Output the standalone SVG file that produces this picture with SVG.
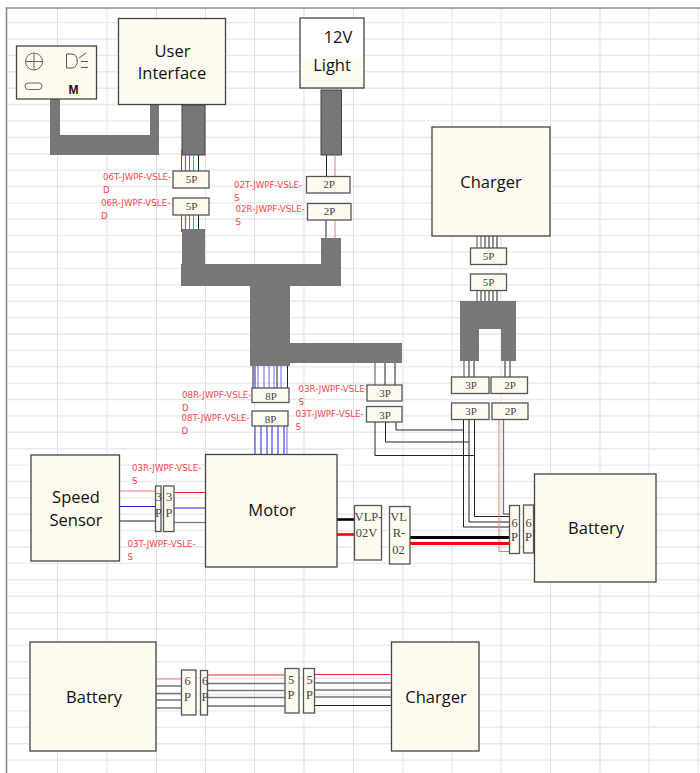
<svg xmlns="http://www.w3.org/2000/svg" width="700" height="773" viewBox="0 0 700 773">
<defs>
<style>
.box{fill:#fffaf0;stroke:#444;stroke-width:1.3}
.con{fill:#fffaf0;stroke:#555;stroke-width:1.3}
.title{font-family:"Open Sans","Noto Sans",sans-serif;font-size:16.500px;fill:#111;text-anchor:middle}
.pin{font-family:"Liberation Serif",serif;font-size:11px;fill:#444;text-anchor:middle}
.pinb{font-family:"Liberation Serif",serif;font-size:12.500px;fill:#444;text-anchor:middle}
.lab{font-family:"DejaVu Sans",sans-serif;font-size:8.700px;fill:#f44}
.bar{fill:#777}
.k{stroke:#222;fill:none;stroke-width:1}
.g{stroke:#777;fill:none;stroke-width:1.3}
.r{stroke:#f22;fill:none;stroke-width:1}
.lr{stroke:#f77;fill:none;stroke-width:1}
.b{stroke:#22d;fill:none;stroke-width:1}
.lb{stroke:#66f;fill:none;stroke-width:1}
.v{stroke:#85c;fill:none;stroke-width:1}
.c{stroke:#3ad;fill:none;stroke-width:1}
</style>
</defs>
<rect width="700" height="773" fill="#fff"/>
<g id="grid" fill="none">
<path stroke="#e6e9f2" stroke-width="1.400" d="M7 22.600H700M7 39H700M7 55.400H700M7 71.800H700M7 88.200H700M7 104.500H700M7 120.900H700M7 137.300H700M7 153.700H700M7 170.100H700M7 186.500H700M7 202.900H700M7 219.200H700M7 235.600H700M7 252H700M7 268.400H700M7 284.800H700M7 301.200H700M7 317.600H700M7 334H700M7 350.400H700M7 366.800H700M7 383.200H700M7 399.500H700M7 415.900H700M7 432.300H700M7 448.700H700M7 465.100H700M7 481.500H700M7 497.900H700M7 514.300H700M7 530.600H700M7 547H700M7 563.400H700M7 579.800H700M7 596.200H700M7 612.600H700M7 629H700M7 645.400H700M7 661.800H700M7 678.200H700M7 694.500H700M7 710.900H700M7 727.300H700M7 743.700H700M7 760.100H700"/>
<path stroke="#dde1ee" stroke-width="1" d="M57.500 8V773M107 8V773M156.500 8V773M205.500 8V773M254.500 8V773M304 8V773M353.500 8V773M403 8V773M452 8V773M501 8V773M550.500 8V773M600 8V773M649 8V773M698 8V773"/>
<path stroke="#8b8b8b" stroke-width="1.600" d="M6.500 773V8H700"/>
</g>
<g id="connectors">
<path class="bar" d="M50 99H60V135H150V104H159V155H50Z"/>
<rect class="bar" x="182" y="105" width="23" height="50" stroke="#444"/>
<rect class="bar" x="321" y="90" width="20.500" height="65" stroke="#444"/>
<path class="bar" d="M182 229H205V264H321V238H341V286H290V343H402V363H290V366H250V286H181V264H182Z"/>
<path class="bar" d="M460 301H516V361H501V329H479V361H460Z"/>
<path class="r" d="M181.500 150V171M181.500 215V232"/>
<path class="g" d="M185.500 155V171M185.500 215V229"/>
<path class="v" d="M189.500 155V171M189.500 215V229"/>
<path class="c" d="M193.500 155V171M193.500 215V229"/>
<path class="k" d="M198.500 155V171M198.500 215V229"/>
<path class="k" d="M326.500 155V176M326 220V238"/>
<path class="lr" d="M335 155V176M335 220V238"/>
<path class="k" d="M253 366V388M277 366V388M287.500 366V388"/>
<path class="b" d="M255 366V388M255 426V454M261 426V454M267 426V454M272 426V454M278 426V454M284 426V454"/>
<path class="lb" d="M258 366V388M264 366V388M269 366V388M274 366V388M281 366V388M287 426V454"/>
<path class="g" d="M375 363V385"/>
<path class="k" d="M385 363V385M395 363V385"/>
<path class="g" d="M477 236V248M477 290V301M481 236V248"/>
<path class="k" d="M485 236V248M489 236V248M493 236V248M497 236V248M485 290V301M489 290V301M493 290V301M497 290V301M481 290V301"/>
<path class="g" d="M464 361V377"/>
<path class="k" d="M469 361V377M474 361V377M505 361V377M510 361V377"/>
<path class="k" d="M375 422V455.500H474M385.500 422V442H469M396 422V430H463.500"/>
<path class="k" d="M463.500 420V527H509.500M469 420V522H509.500M474.500 420V516.500H509.500"/>
<path class="lr" d="M499 420V551.500H509.500"/>
<path class="g" d="M503.500 420V514H509.500"/>
<path class="lr" d="M119 491H155.500" stroke-width="1.500"/>
<path class="b" d="M119 506.500H155.500"/>
<path class="k" d="M119 521H155.500"/>
<path class="r" d="M174 492.500H205"/>
<path class="b" d="M174 508H205"/>
<path class="g" d="M174 522.500H205"/>
<path d="M337 519.500H354.500" stroke="#000" stroke-width="2.600" fill="none"/>
<path d="M337 534.500H354.500" stroke="#f00" stroke-width="2.600" fill="none"/>
<path d="M410 537.500H509.500" stroke="#000" stroke-width="3" fill="none"/>
<path d="M410 543.500H509.500" stroke="#f00" stroke-width="3" fill="none"/>
<path class="lr" d="M156 679H181.500"/>
<path class="g" d="M156 686H181.500M156 693.500H181.500M156 700H181.500M156 708H181.500"/>
<path class="r" d="M207.500 675H285"/>
<path class="g" d="M207.500 683.500H285M207.500 690.500H285M207.500 697.500H285"/>
<path class="k" d="M207.500 706H285"/>
<path class="r" d="M314.500 674.500H391.500"/>
<path class="g" d="M314.500 683H391.500M314.500 690H391.500M314.500 697H391.500"/>
<path class="k" d="M314.500 705.500H391.500"/>
</g>
<g id="node-panel">
<rect class="box" x="16.500" y="46" width="80" height="53"/>
<circle cx="34" cy="61.500" r="8.500" fill="none" stroke="#666"/>
<path d="M25.500 61.500H42.500M34 53V70" stroke="#666" fill="none"/>
<rect x="25" y="83" width="17" height="6.500" rx="3.200" fill="none" stroke="#666"/>
<path d="M66.500 54H72C79 54 79 68 72 68H66.500ZM79 58L86 53M81 61.500H88M81 67.500H88" stroke="#555" fill="none"/>
<text x="73.500" y="94" font-family="Liberation Sans,sans-serif" font-size="12" font-weight="700" fill="#111" text-anchor="middle">M</text>
</g>
<g id="node-ui"><rect class="box" x="118.500" y="18.500" width="107" height="86"/><text class="title" x="172.500" y="57">User</text><text class="title" x="172" y="79">Interface</text></g>
<g id="node-light"><rect x="300" y="18" width="64" height="70" fill="#fff" stroke="#444" stroke-width="1.300"/><rect x="301" y="57" width="62" height="30" fill="#fffaf0"/><text class="title" x="338" y="43">12V</text><text class="title" x="332" y="71">Light</text></g>
<g id="node-charger"><rect class="box" x="432" y="127" width="118" height="109"/><text class="title" x="491" y="188">Charger</text></g>
<g id="node-speed"><rect class="box" x="31" y="455" width="88.500" height="106"/><text class="title" x="76" y="503">Speed</text><text class="title" x="76" y="526">Sensor</text></g>
<g id="node-motor"><rect class="box" x="205.500" y="454.500" width="131.500" height="112.500"/><text class="title" x="272" y="516">Motor</text></g>
<g id="node-battery1"><rect class="box" x="534.500" y="474" width="121.500" height="108"/><text class="title" x="596" y="534">Battery</text></g>
<g id="node-battery2"><rect class="box" x="30" y="642" width="126" height="109"/><text class="title" x="94" y="703">Battery</text></g>
<g id="node-charger2"><rect class="box" x="391.500" y="642" width="87.500" height="109"/><text class="title" x="436" y="703">Charger</text></g>
<g id="connector-boxes">
<g id="c5p1"><rect class="con" x="173" y="171" width="36" height="17"/><text class="pin" x="191.500" y="183">5P</text></g>
<g id="c5p2"><rect class="con" x="173" y="198" width="36" height="17"/><text class="pin" x="191.500" y="210">5P</text></g>
<g id="c2p1"><rect class="con" x="306.500" y="176.500" width="43.500" height="16.500"/><text class="pin" x="329" y="188">2P</text></g>
<g id="c2p2"><rect class="con" x="307.500" y="203.500" width="43.500" height="16.500"/><text class="pin" x="329.500" y="215">2P</text></g>
<g id="c8p1"><rect class="con" x="252" y="388" width="37" height="14.500"/><text class="pin" x="271" y="400">8P</text></g>
<g id="c8p2"><rect class="con" x="252" y="411" width="36" height="15"/><text class="pin" x="270.500" y="423">8P</text></g>
<g id="c3p1"><rect class="con" x="367" y="385" width="35" height="16"/><text class="pin" x="385" y="397">3P</text></g>
<g id="c3p2"><rect class="con" x="366.500" y="406.500" width="35.500" height="15.500"/><text class="pin" x="385" y="419">3P</text></g>
<g id="c5p3"><rect class="con" x="470.500" y="248" width="36" height="16.500"/><text class="pin" x="488.500" y="260">5P</text></g>
<g id="c5p4"><rect class="con" x="470.500" y="274" width="36" height="16.500"/><text class="pin" x="488.500" y="286">5P</text></g>
<g id="c3p3"><rect class="con" x="451.500" y="377" width="37.500" height="16.500"/><text class="pin" x="471" y="389">3P</text></g>
<g id="c2p3"><rect class="con" x="491" y="377" width="36.500" height="16.500"/><text class="pin" x="510" y="389">2P</text></g>
<g id="c3p4"><rect class="con" x="451.500" y="403" width="37.500" height="16.500"/><text class="pin" x="471" y="415">3P</text></g>
<g id="c2p4"><rect class="con" x="492" y="403" width="36" height="16.500"/><text class="pin" x="510.500" y="415">2P</text></g>
<g id="c3s1"><rect class="con" x="155.500" y="486" width="5.500" height="45.500"/><text class="pinb" x="158.500" y="501">3</text><text class="pinb" x="158.500" y="517">P</text></g>
<g id="c3s2"><rect class="con" x="163.500" y="486" width="10.500" height="45.500"/><text class="pinb" x="169" y="501">3</text><text class="pinb" x="169" y="517">P</text></g>
<g id="cvlp"><rect class="con" x="354.500" y="505.500" width="27" height="54.500"/><text class="pinb" x="368.500" y="521">VLP-</text><text class="pinb" x="366.500" y="537">02V</text></g>
<g id="cvlr"><rect class="con" x="389.500" y="506.500" width="20.500" height="57.500"/><text class="pinb" x="398.500" y="521">VL</text><text class="pinb" x="399" y="537">R-</text><text class="pinb" x="398.500" y="554">02</text></g>
<g id="c6b1"><rect class="con" x="509.500" y="505.500" width="10" height="48"/><text class="pinb" x="514.500" y="527">6</text><text class="pinb" x="514.500" y="541">P</text></g>
<g id="c6b2"><rect class="con" x="523.500" y="505" width="10" height="48"/><text class="pinb" x="528.500" y="527">6</text><text class="pinb" x="528.500" y="541">P</text></g>
<g id="c6l1"><rect class="con" x="181.500" y="670" width="14.500" height="45"/><text class="pinb" x="187.500" y="685">6</text><text class="pinb" x="187.500" y="701">P</text></g>
<g id="c6l2"><rect class="con" x="200.500" y="670.500" width="7" height="44.500"/><text class="pinb" x="205" y="685">6</text><text class="pinb" x="205" y="701">P</text></g>
<g id="c5l1"><rect class="con" x="285" y="668.500" width="14" height="44.500"/><text class="pinb" x="291" y="684">5</text><text class="pinb" x="291" y="699">P</text></g>
<g id="c5l2"><rect class="con" x="303.500" y="668.500" width="11" height="44.500"/><text class="pinb" x="309.500" y="684">5</text><text class="pinb" x="309.500" y="699">P</text></g>
</g>
<g id="labels">
<text class="lab" x="103" y="180">06T-JWPF-VSLE-</text><text class="lab" x="103" y="192.500">D</text>
<text class="lab" x="101" y="206">06R-JWPF-VSLE-</text><text class="lab" x="101" y="219">D</text>
<text class="lab" x="234" y="188">02T-JWPF-VSLE-</text><text class="lab" x="234" y="200.500">S</text>
<text class="lab" x="235.500" y="211.500">02R-JWPF-VSLE-</text><text class="lab" x="235.500" y="224.500">S</text>
<text class="lab" x="182" y="398">08R-JWPF-VSLE-</text><text class="lab" x="182" y="410.500">D</text>
<text class="lab" x="181.500" y="421">08T-JWPF-VSLE-</text><text class="lab" x="181.500" y="434">D</text>
<text class="lab" x="298.500" y="392">03R-JWPF-VSLE-</text><text class="lab" x="298.500" y="404.500">S</text>
<text class="lab" x="295.500" y="417">03T-JWPF-VSLE-</text><text class="lab" x="295.500" y="430">S</text>
<text class="lab" x="132" y="471">03R-JWPF-VSLE-</text><text class="lab" x="132" y="483.500">S</text>
<text class="lab" x="127.500" y="547">03T-JWPF-VSLE-</text><text class="lab" x="127.500" y="559.500">S</text>
</g>
</svg>
